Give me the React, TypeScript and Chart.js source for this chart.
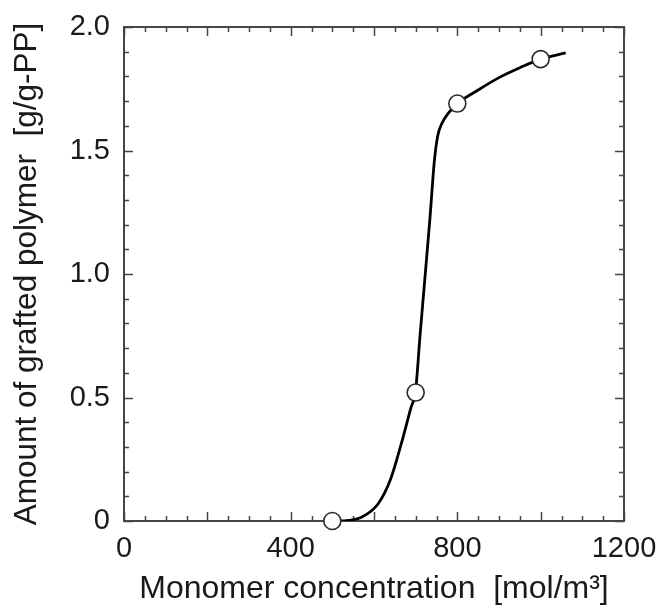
import React, { useEffect, useRef } from "react";
import { Chart, registerables } from "chart.js";

Chart.register(...registerables);

// Measured points (open circles)
const POINT_X = [500, 700, 800, 1000];
const POINT_Y = [0, 0.52, 1.69, 1.87];

// Fitted curve
const CURVE_X = [520, 540, 570, 610, 640, 665, 688, 700, 710, 722, 734, 745, 753, 763, 778, 800, 850, 900, 950, 1000, 1060];
const CURVE_Y = [0, 0.002, 0.015, 0.07, 0.17, 0.31, 0.455, 0.53, 0.74, 0.98, 1.22, 1.46, 1.56, 1.61, 1.65, 1.69, 1.745, 1.795, 1.835, 1.87, 1.895];

const X_TICKS = [0, 400, 800, 1200];
const Y_TICKS = [0, 0.5, 1.0, 1.5, 2.0];
const Y_TICK_LABELS = ["0", "0.5", "1.0", "1.5", "2.0"];

const X_TITLE = "Monomer concentration  [mol/m\u00B3]";
const Y_TITLE = "Amount of grafted polymer  [g/g-PP]";

const X_MINOR_STEP = 50;
const X_MAJOR_STEP = 200;
const Y_MINOR_STEP = 0.1;
const Y_MAJOR_STEP = 0.5;

const AXIS_COLOR = "#454545";
const FONT_FAMILY = "'Liberation Sans', Arial, Helvetica, sans-serif";

const framePlugin = {
  id: "frameTicks",
  beforeDatasetsDraw(chart: any) {
    const { ctx, chartArea, scales } = chart;
    const { left, right, top, bottom } = chartArea;
    const x = scales.x;
    const y = scales.y;
    ctx.save();
    ctx.strokeStyle = AXIS_COLOR;
    ctx.lineWidth = 1.5;
    ctx.beginPath();
    const nx = Math.round((x.max - x.min) / X_MINOR_STEP);
    for (let i = 0; i <= nx; i++) {
      const v = x.min + i * X_MINOR_STEP;
      const px = Math.round(x.getPixelForValue(v)) + 0.5;
      const major = Math.abs(v / X_MAJOR_STEP - Math.round(v / X_MAJOR_STEP)) < 1e-6;
      const len = major ? 9 : 5;
      ctx.moveTo(px, bottom);
      ctx.lineTo(px, bottom - len);
      ctx.moveTo(px, top);
      ctx.lineTo(px, top + len);
    }
    const ny = Math.round((y.max - y.min) / Y_MINOR_STEP);
    for (let i = 0; i <= ny; i++) {
      const v = y.min + i * Y_MINOR_STEP;
      const py = Math.round(y.getPixelForValue(v)) + 0.5;
      const major = Math.abs(v / Y_MAJOR_STEP - Math.round(v / Y_MAJOR_STEP)) < 1e-6;
      const len = major ? 9 : 5;
      ctx.moveTo(left, py);
      ctx.lineTo(left + len, py);
      ctx.moveTo(right, py);
      ctx.lineTo(right - len, py);
    }
    ctx.stroke();
    ctx.lineWidth = 2;
    ctx.strokeRect(left, top, right - left, bottom - top);
    ctx.restore();
  },
};

export default function App() {
  const canvasRef = useRef<HTMLCanvasElement | null>(null);

  useEffect(() => {
    const canvas = canvasRef.current;
    if (!canvas) return;
    const chart = new Chart(canvas, {
      type: "scatter",
      data: {
        datasets: [
          {
            label: "measured",
            data: POINT_X.map((x, i) => ({ x, y: POINT_Y[i] })),
            pointRadius: 8.5,
            pointHoverRadius: 8.5,
            pointBackgroundColor: "#ffffff",
            pointBorderColor: "#2a2a2a",
            pointBorderWidth: 1.6,
            showLine: false,
            clip: false as any,
          },
          {
            label: "curve",
            data: CURVE_X.map((x, i) => ({ x, y: CURVE_Y[i] })),
            showLine: true,
            pointRadius: 0,
            borderColor: "#000000",
            borderWidth: 2.8,
            cubicInterpolationMode: "monotone",
            fill: false,
          } as any,
        ],
      },
      options: {
        animation: false,
        responsive: false,
        devicePixelRatio: 1,
        events: [],
        layout: { padding: { left: 0, right: 37, top: 27, bottom: 0 } },
        plugins: {
          legend: { display: false },
          tooltip: { enabled: false },
        },
        scales: {
          x: {
            type: "linear",
            min: 0,
            max: 1200,
            afterFit: (s: any) => {
              s.height = 84;
              s.paddingLeft = 0;
              s.paddingRight = 0;
            },
            afterBuildTicks: (s: any) => {
              s.ticks = X_TICKS.map((v) => ({ value: v }));
            },
            grid: { display: false, drawTicks: false },
            border: { display: false },
            ticks: {
              padding: 11,
              color: "#1a1a1a",
              font: { family: FONT_FAMILY, size: 29 },
              maxRotation: 0,
              callback: (v: any) => String(v),
            },
            title: {
              display: true,
              text: X_TITLE,
              color: "#1a1a1a",
              font: { family: FONT_FAMILY, size: 32, lineHeight: 1 },
              padding: { top: 0, bottom: 0 },
            },
          },
          y: {
            type: "linear",
            min: 0,
            max: 2,
            afterFit: (s: any) => {
              s.width = 124;
              s.paddingTop = 0;
              s.paddingBottom = 0;
            },
            afterBuildTicks: (s: any) => {
              s.ticks = Y_TICKS.map((v) => ({ value: v }));
            },
            grid: { display: false, drawTicks: false },
            border: { display: false },
            ticks: {
              padding: 14,
              color: "#1a1a1a",
              font: { family: FONT_FAMILY, size: 29 },
              callback: (v: any) => {
                const idx = Y_TICKS.findIndex((t) => Math.abs(t - Number(v)) < 1e-9);
                return idx >= 0 ? Y_TICK_LABELS[idx] : "";
              },
            },
            title: {
              display: true,
              text: Y_TITLE,
              color: "#1a1a1a",
              font: { family: FONT_FAMILY, size: 31.5, lineHeight: 1 },
              padding: { top: 12, bottom: 0 },
            },
          },
        },
      },
      plugins: [framePlugin],
    });
    return () => chart.destroy();
  }, []);

  return (
    <div style={{ position: "absolute", left: 0, top: 0, width: 661, height: 605, background: "#ffffff" }}>
      <canvas ref={canvasRef} width={661} height={605} style={{ display: "block", width: 661, height: 605 }} />
    </div>
  );
}
